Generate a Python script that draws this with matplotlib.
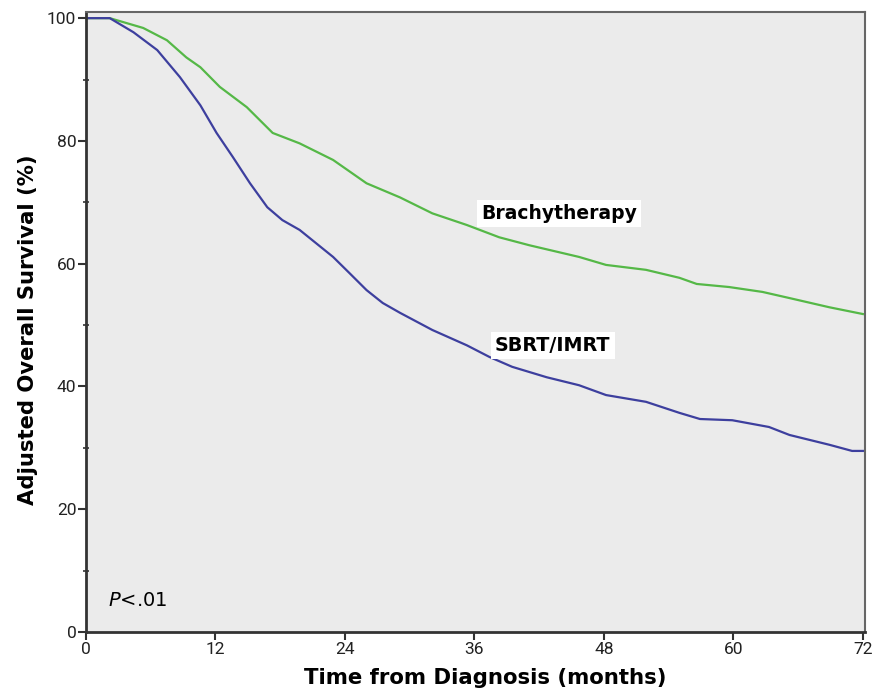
import matplotlib.pyplot as plt
from matplotlib.ticker import MultipleLocator

# survival curves (months, %)
brachy_t = [0, 2.2, 5.3, 7.5, 9.3, 10.6, 12.4, 14.9, 17.3, 19.8, 22.9, 26.0, 29.1,
            32.1, 35.3, 38.3, 41.1, 45.7, 48.2, 51.9, 55.0, 56.6, 59.6, 62.7,
            65.2, 68.9, 72.0]
brachy_s = [100, 100, 98.4, 96.4, 93.6, 92.0, 88.8, 85.5, 81.3, 79.6, 76.9, 73.1, 70.8,
            68.2, 66.3, 64.3, 63.0, 61.1, 59.8, 59.0, 57.7, 56.7, 56.2, 55.4,
            54.4, 52.9, 51.8]

sbrt_t = [0, 2.2, 4.4, 6.6, 8.7, 10.6, 12.1, 13.6, 15.2, 16.8, 18.2, 19.8, 22.9, 24.4,
          26.0, 27.5, 29.1, 32.1, 35.3, 37.4, 39.5, 42.7, 45.7, 48.2, 51.9, 55.0,
          56.9, 59.9, 63.3, 65.2, 68.9, 71.0, 72.0]
sbrt_s = [100, 100, 97.7, 94.8, 90.4, 85.8, 81.3, 77.4, 73.1, 69.2, 67.1, 65.5, 61.1, 58.5,
          55.7, 53.6, 52.0, 49.2, 46.7, 44.8, 43.2, 41.5, 40.2, 38.6, 37.5, 35.7,
          34.7, 34.5, 33.4, 32.1, 30.5, 29.5, 29.5]

xticks = [0, 12, 24, 36, 48, 60, 72]
yticks = [0, 20, 40, 60, 80, 100]

plt.rcParams['font.family'] = ['DejaVu Sans']

fig = plt.figure(figsize=(8.75, 6.94), dpi=100)
ax = fig.add_axes([0.0983, 0.0893, 0.8903, 0.8934])
ax.set_facecolor('#ebebeb')

ax.plot(brachy_t, brachy_s, color='#55b847', lw=1.6)
ax.plot(sbrt_t, sbrt_s, color='#3d3f9e', lw=1.6)

ax.set_xlim(0, 72.2)
ax.set_ylim(0, 101)
ax.set_xticks(xticks)
ax.set_yticks(yticks)
ax.yaxis.set_minor_locator(MultipleLocator(10))
ax.tick_params(axis='both', which='major', direction='out', length=6, width=1.5,
               labelsize=12.5, color='#333333', pad=1)
ax.tick_params(axis='y', which='minor', direction='inout', length=5, width=1.2,
               color='#333333')
for lab in ax.get_xticklabels() + ax.get_yticklabels():
    lab.set_family('Roboto')
    lab.set_color('#222222')

for side in ['left', 'bottom']:
    ax.spines[side].set_linewidth(2)
    ax.spines[side].set_color('#333333')
for side in ['top', 'right']:
    ax.spines[side].set_linewidth(1.5)
    ax.spines[side].set_color('#666666')

ax.set_xlabel('Time from Diagnosis (months)', fontsize=15.3, fontweight='bold')
ax.set_ylabel('Adjusted Overall Survival (%)', fontsize=15.2, fontweight='bold')
ax.xaxis.set_label_coords(0.513, -0.058)
ax.yaxis.set_label_coords(-0.062, 0.487)

box = dict(facecolor='white', edgecolor='none', pad=3)
ax.text(36.6, 68.2, 'Brachytherapy', fontsize=13.5, fontweight='bold', va='center', bbox=box)
ax.text(37.9, 46.7, 'SBRT/IMRT', fontsize=13.8, fontweight='bold', va='center', bbox=box)
ax.text(2, 5.2, r'$P$<.01', fontsize=14, va='center')

fig.savefig('out.png', dpi=100)
